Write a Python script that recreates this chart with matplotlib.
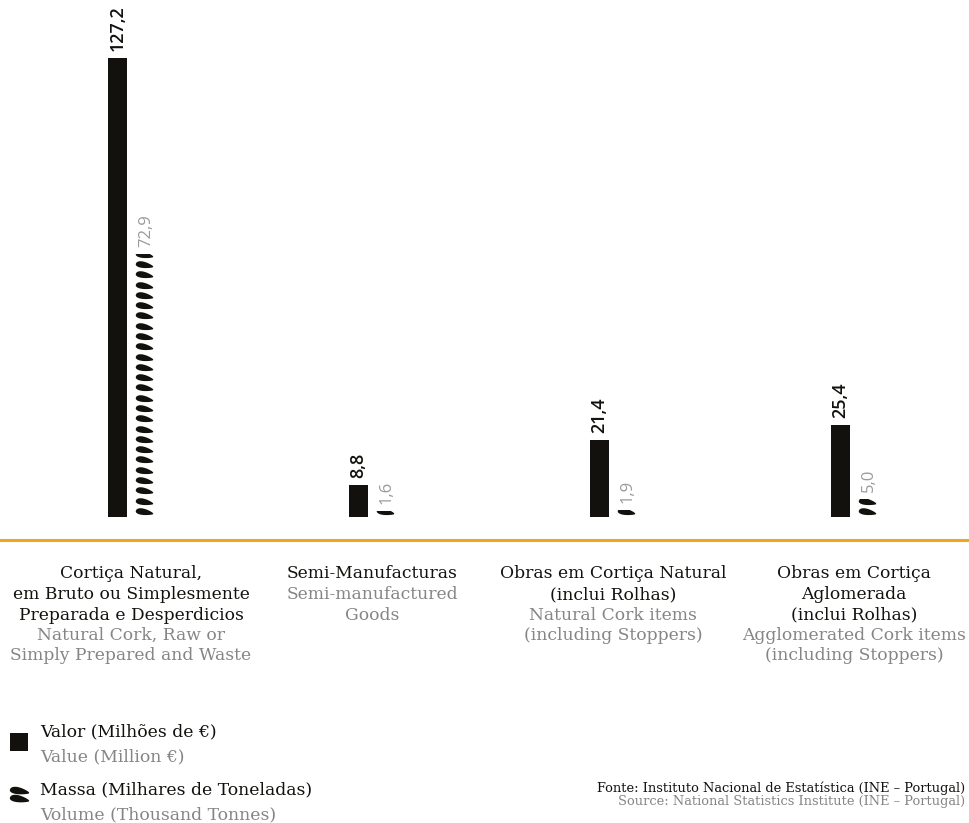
import numpy as np
import matplotlib
matplotlib.use("Agg")
import matplotlib.pyplot as plt
from matplotlib.patches import Rectangle
from matplotlib.path import Path
from matplotlib.markers import MarkerStyle

# ---------------- data ----------------
categories_pt = [
    "Cortiça Natural,\nem Bruto ou Simplesmente\nPreparada e Desperdicios",
    "Semi-Manufacturas",
    "Obras em Cortiça Natural\n(inclui Rolhas)",
    "Obras em Cortiça\nAglomerada\n(inclui Rolhas)",
]
categories_en = [
    "Natural Cork, Raw or\nSimply Prepared and Waste",
    "Semi-manufactured\nGoods",
    "Natural Cork items\n(including Stoppers)",
    "Agglomerated Cork items\n(including Stoppers)",
]
valor = [127.2, 8.8, 21.4, 25.4]      # Milhões de €
massa = [72.9, 1.6, 1.9, 5.0]         # Milhares de toneladas
valor_labels = ["127,2", "8,8", "21,4", "25,4"]
massa_labels = ["72,9", "1,6", "1,9", "5,0"]

legend_pt = ["Valor (Milhões de €)", "Massa (Milhares de Toneladas)"]
legend_en = ["Value (Million €)", "Volume (Thousand Tonnes)"]
source_pt = "Fonte: Instituto Nacional de Estatística (INE – Portugal)"
source_en = "Source: National Statistics Institute (INE – Portugal)"

# ---------------- style ----------------
BLACK = "#12110d"
GRAY = "#858585"
LGRAY = "#9a9a9a"
ORANGE = "#f0a818"
SERIF = ["DejaVu Serif"]
SANS = ["Open Sans", "DejaVu Sans"]

W, H = 970, 823
fig = plt.figure(figsize=(W / 100, H / 100), dpi=100)
fig.patch.set_facecolor("white")

base_px = 517            # baseline from top
px_per_cat = 241.0
first_center = 131.0
ax = fig.add_axes([0, (H - base_px) / H, 1, base_px / H])
ax.set_xlim(-first_center / px_per_cat, (W - first_center) / px_per_cat)
ax.set_ylim(0, base_px / 3.61)
ax.axis("off")

x = np.arange(len(categories_pt))
off = 13.5 / px_per_cat
bw = 19.0 / px_per_cat
cw = 21.0 / px_per_cat

# value bars
ax.bar(x - off, valor, width=bw, color=BLACK, zorder=2)

# cork pictograph stacks
t = np.linspace(-1, 1, 50)
env = np.sqrt(np.clip(1 - t**2, 0, 1)) * (1.2 - 0.45 * t)
upper = 0.33 * env
lower = -0.24 * env
verts = np.concatenate([np.column_stack([t, upper]),
                        np.column_stack([t[::-1], lower[::-1]])])
ang = np.deg2rad(-9)
rot = np.array([[np.cos(ang), -np.sin(ang)], [np.sin(ang), np.cos(ang)]])
verts = verts @ rot.T
cork = Path(np.vstack([verts, verts[:1]]), closed=True)
cork_marker = MarkerStyle(cork)

step = 2.85
for xi, m in zip(x, massa):
    clip = Rectangle((xi + off - cw / 2, 0), cw, m, transform=ax.transData,
                     facecolor="none", edgecolor="none")
    ax.add_patch(clip)
    n = int(np.ceil(m / step)) + 1
    ys = (np.arange(n) + 0.5) * step
    sc = ax.scatter(np.full(n, xi + off), ys, marker=cork_marker, s=160,
                    color=BLACK, linewidths=0, zorder=3)
    sc.set_clip_path(clip)

# value labels
for xi, v, lab in zip(x, valor, valor_labels):
    ax.annotate(lab, (xi - off, v), xytext=(0, 5), textcoords="offset points",
                rotation=90, ha="center", va="bottom", fontsize=13,
                family=SANS, fontweight="semibold", color=BLACK, annotation_clip=False)
for xi, m, lab in zip(x, massa, massa_labels):
    ax.annotate(lab, (xi + off, m), xytext=(1, 5), textcoords="offset points",
                rotation=90, ha="center", va="bottom", fontsize=12,
                family=SANS, color=LGRAY, annotation_clip=False)

# orange baseline
fig.add_artist(plt.Line2D([0, 1], [(H - 540) / H] * 2, color=ORANGE, lw=2.2,
                          transform=fig.transFigure))

# category labels
fs_cat = 12.3
line_px = 20.5
for xi, pt, en in zip(x, categories_pt, categories_en):
    xf = (first_center + xi * px_per_cat) / W
    y0 = 574
    pt_lines = pt.split("\n")
    for i, line in enumerate(pt_lines):
        fig.text(xf, (H - (y0 + i * line_px)) / H, line, ha="center", va="center",
                 fontsize=fs_cat, family=SERIF, color=BLACK)
    for j, line in enumerate(en.split("\n")):
        fig.text(xf, (H - (y0 + (len(pt_lines) + j) * line_px)) / H, line,
                 ha="center", va="center", fontsize=fs_cat, family=SERIF, color=GRAY)

# legend
fig.add_artist(Rectangle((10 / W, (H - 751) / H), 18 / W, 18 / H,
                         transform=fig.transFigure, facecolor=BLACK, edgecolor="none"))
fig.text(40 / W, (H - 732) / H, legend_pt[0], ha="left", va="center",
         fontsize=12.4, family=SERIF, color=BLACK)
fig.text(40 / W, (H - 757) / H, legend_en[0], ha="left", va="center",
         fontsize=12.4, family=SERIF, color=GRAY)
for dy in (-4, 4):
    fig.add_artist(plt.Line2D([19 / W], [(H - 795 - dy) / H], marker=cork_marker,
                              markersize=14, color=BLACK, markeredgewidth=0,
                              transform=fig.transFigure))
fig.text(40 / W, (H - 790) / H, legend_pt[1], ha="left", va="center",
         fontsize=12.4, family=SERIF, color=BLACK)
fig.text(40 / W, (H - 815) / H, legend_en[1], ha="left", va="center",
         fontsize=12.4, family=SERIF, color=GRAY)

# source
fig.text(965 / W, (H - 788) / H, source_pt, ha="right", va="center",
         fontsize=9.35, family=SERIF, color=BLACK)
fig.text(965 / W, (H - 802) / H, source_en, ha="right", va="center",
         fontsize=9.35, family=SERIF, color=GRAY)

fig.savefig("out.png", dpi=100, facecolor="white")
